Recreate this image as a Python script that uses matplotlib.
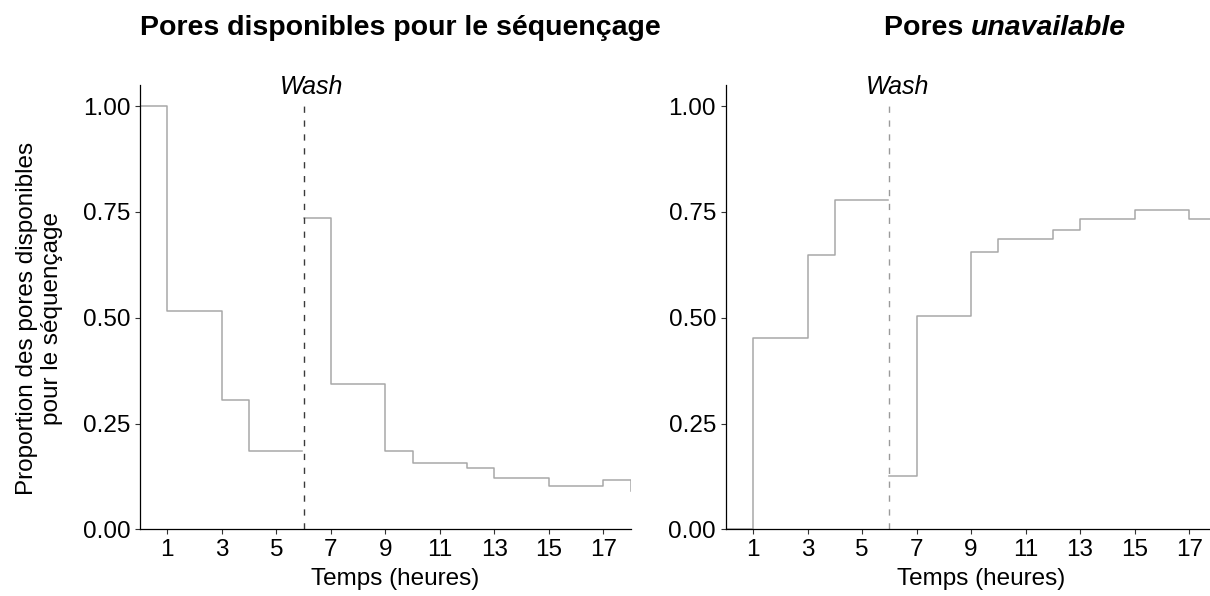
import numpy as np
import matplotlib
matplotlib.use("Agg")
import matplotlib.pyplot as plt

plt.rcParams['font.family'] = ['Liberation Sans', 'DejaVu Sans']

# step data, hours -> proportion of pores (value holds until the next hour)
hours_before = [0, 1, 2, 3, 4, 5, 5.95]
hours_after = [6, 7, 8, 9, 10, 11, 12, 13, 14, 15, 16, 17, 18]

available_before = [1.00, 0.515, 0.515, 0.305, 0.184, 0.184, 0.184]
available_after = [0.735, 0.344, 0.344, 0.185, 0.156, 0.156, 0.144,
                   0.121, 0.121, 0.102, 0.102, 0.117, 0.090]

unavailable_before = [0.00, 0.452, 0.452, 0.648, 0.778, 0.778, 0.778]
unavailable_after = [0.125, 0.503, 0.503, 0.655, 0.685, 0.685, 0.707,
                     0.734, 0.734, 0.755, 0.755, 0.734, 0.734]

wash_time = 6
xticks = [1, 3, 5, 7, 9, 11, 13, 15, 17]
yticks = [0.00, 0.25, 0.50, 0.75, 1.00]

fig = plt.figure(figsize=(12.10, 5.96), dpi=100)
ax1 = fig.add_axes([0.1157, 0.1119, 0.4055, 0.7455])
ax2 = fig.add_axes([0.5998, 0.1119, 0.4055, 0.7455])

panels = [
    (ax1, available_before, available_after, '#3a3a3a'),
    (ax2, unavailable_before, unavailable_after, '#9a9a9a'),
]

for ax, before, after, wash_color in panels:
    ax.step(hours_before, before, where='post', color='#a8a8a8', lw=1.1)
    ax.step(hours_after, after, where='post', color='#a8a8a8', lw=1.1)
    ax.vlines(wash_time, 0, 1.0, colors=wash_color, lw=1.0,
              linestyles=(0, (4.5, 5.5)))
    ax.text(6.3, 1.045, 'Wash', style='italic', fontsize=18,
            ha='center', va='center')
    ax.set_xlim(0, 18)
    ax.set_ylim(0, 1.05)
    ax.set_xticks(xticks)
    ax.set_yticks(yticks)
    ax.set_yticklabels([f'{v:.2f}' for v in yticks])
    ax.tick_params(labelsize=17.5, length=3.5, width=0.8, pad=3.5,
                   color='#333333')
    for side in ('top', 'right'):
        ax.spines[side].set_visible(False)
    for side in ('left', 'bottom'):
        ax.spines[side].set_linewidth(0.9)
    ax.set_xlabel('Temps (heures)', fontsize=17.5)
    ax.xaxis.set_label_coords(0.52, -0.086)

ax1.set_ylabel('Proportion des pores disponibles\npour le séquençage',
               fontsize=17.5, linespacing=1.15)
ax1.yaxis.set_label_coords(-0.157, 0.475)

title_y = 1 - 28 / 596
fig.text(400 / 1210, title_y, 'Pores disponibles pour le séquençage',
         fontsize=20.5, fontweight='bold', ha='center', va='center')

# right title: bold word followed by a bold italic word, centred as a whole
fig.canvas.draw()
renderer = fig.canvas.get_renderer()
t_a = fig.text(0, title_y, 'Pores ', fontsize=20.5, fontweight='bold',
               va='center')
t_b = fig.text(0, title_y, 'unavailable', fontsize=20.5, fontweight='bold',
               style='italic', va='center')
w_a = t_a.get_window_extent(renderer).width / fig.bbox.width
w_b = t_b.get_window_extent(renderer).width / fig.bbox.width
x0 = 1005 / 1210 - (w_a + w_b) / 2
t_a.set_x(x0)
t_b.set_x(x0 + w_a)

fig.savefig('out.png', dpi=100)
